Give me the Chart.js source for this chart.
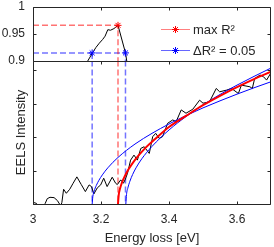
<!DOCTYPE html>
<html>
<head>
<meta charset="utf-8">
<script src="https://cdn.jsdelivr.net/npm/chart.js@4.4.0/dist/chart.umd.min.js"></script>
<style>
  html, body { margin: 0; padding: 0; background: #fff; }
  #wrap { position: relative; width: 274px; height: 247px; }
  #wrap canvas { position: absolute; left: 0; top: 0; }
</style>
</head>
<body>
<div id="wrap">
  <canvas id="spectrumChart" width="274" height="247"></canvas>
  <canvas id="r2Chart" width="274" height="247"></canvas>
</div>
<script>
// Rango de energía común a los dos paneles
const energyMin = 3.0;
const energyMax = 3.7;
const energyTicks = [3.0, 3.2, 3.4, 3.6];

// Panel superior: R² del ajuste según la energía de inicio
const onsetEnergy = [3.160, 3.175, 3.185, 3.195, 3.205, 3.212, 3.220, 3.228, 3.238, 3.250, 3.272, 3.277];
const r2Values    = [0.899, 0.915, 0.925, 0.933, 0.940, 0.946, 0.958, 0.957, 0.960, 0.966, 0.915, 0.895];
const r2Min = 0.9;
const r2Max = 1;
const r2Ticks = [0.9, 0.95, 1];

// Puntos marcados (máximo y banda ΔR²)
const maxOnset = 3.25;
const maxR2 = 0.966;
const bandOnsets = [3.174, 3.272];
const bandR2 = 0.915;

// Panel inferior: espectro EELS
const spectrumEnergy = [
  3.000, 3.010, 3.018, 3.030, 3.036, 3.042, 3.050, 3.062, 3.072, 3.078, 3.082, 3.085,
  3.090, 3.098, 3.108, 3.118, 3.129, 3.142, 3.154, 3.165, 3.172, 3.179, 3.189, 3.199,
  3.208, 3.218, 3.233, 3.243, 3.248, 3.258, 3.266, 3.272, 3.278, 3.287, 3.297, 3.307,
  3.317, 3.327, 3.342, 3.352, 3.361, 3.371, 3.381, 3.396, 3.411, 3.421, 3.436, 3.450,
  3.470, 3.490, 3.500, 3.519, 3.539, 3.549, 3.569, 3.584, 3.604, 3.613, 3.638, 3.645,
  3.652, 3.668, 3.678, 3.687, 3.700
];
const spectrumIntensity = [
  0.05, 0.02, -0.08, -0.08, 0.02, 0.16, 0.20, 0.19, 0.10, 0.00, -0.05, 0.05,
  0.44, 0.32, 0.44, 0.62, 0.81, 0.58, 0.37, 0.57, 0.52, 0.30, 0.48, 0.57,
  0.77, 0.52, 0.80, 0.62, 0.58, 0.72, 0.62, 0.75, 0.92, 1.31, 1.46, 1.31,
  1.66, 1.71, 1.51, 2.01, 2.11, 1.96, 2.01, 2.41, 2.51, 2.46, 2.81, 2.71,
  2.83, 3.10, 3.01, 3.05, 3.45, 3.35, 3.40, 3.45, 3.30, 3.55, 3.50, 3.45,
  3.75, 3.85, 3.80, 3.70, 3.92
];

// Ajuste con R² máximo (rojo)
const fitMaxEnergy = [3.250, 3.252, 3.256, 3.262, 3.270, 3.280, 3.300, 3.330, 3.360, 3.400, 3.450, 3.500, 3.550, 3.600, 3.650, 3.700];
const fitMaxIntensity = [0, 0.26, 0.46, 0.65, 0.83, 1.02, 1.32, 1.67, 1.95, 2.30, 2.63, 2.95, 3.23, 3.49, 3.73, 3.95];

// Ajustes en los extremos de la banda ΔR² (azul)
const fitLowEnergy = [3.174, 3.176, 3.180, 3.186, 3.194, 3.204, 3.220, 3.250, 3.300, 3.350, 3.400, 3.450, 3.500, 3.550, 3.600, 3.650, 3.700];
const fitLowIntensity = [0, 0.22, 0.39, 0.55, 0.71, 0.87, 1.08, 1.39, 1.79, 2.11, 2.39, 2.64, 2.87, 3.08, 3.28, 3.47, 3.65];
const fitHighEnergy = [3.273, 3.275, 3.279, 3.285, 3.293, 3.303, 3.320, 3.350, 3.400, 3.450, 3.500, 3.550, 3.600, 3.650, 3.700];
const fitHighIntensity = [0, 0.28, 0.48, 0.68, 0.88, 1.08, 1.35, 1.72, 2.21, 2.61, 2.96, 3.27, 3.55, 3.81, 4.06];

const intensityMin = 0;
const intensityMax = 4.27;
const intensityTicks = [0, 1, 2, 3, 4];

const legendLabels = ['max R\u00B2', '\u0394R\u00B2 = 0.05'];

// Colores y fuentes
const axisColor = '#262626';
const red = '#ff0000';
const blue = '#0000ff';
const redDash = 'rgba(255,0,0,0.55)';
const blueDash = 'rgba(0,0,255,0.55)';
const fontFamily = "'Liberation Sans', Arial, sans-serif";

function toPoints(xs, ys) {
  return xs.map((x, i) => ({ x: x, y: ys[i] }));
}

function fixedTicks(values) {
  return scale => { scale.ticks = values.map(v => ({ value: v })); };
}

// Ancho fijo del eje Y, sin el relleno extra que Chart.js añade para las etiquetas
function fixedWidth(scale) {
  scale.width = 33;
  scale.paddingTop = 0;
  scale.paddingBottom = 0;
}

// Caja de ejes con marcas hacia dentro (estilo MATLAB)
const axisBox = {
  id: 'axisBox',
  afterDatasetsDraw(chart, args, opts) {
    const { ctx, chartArea: a, scales } = chart;
    const L = Math.round(a.left) + 0.5, R = Math.round(a.right) - 0.5;
    const T = Math.round(a.top) + 0.5, B = Math.round(a.bottom) + 0.5;
    const len = 3;
    ctx.save();
    ctx.strokeStyle = axisColor;
    ctx.lineWidth = 1;
    ctx.beginPath();
    const sides = opts.sides || '';
    if (sides.includes('l')) { ctx.moveTo(L, T); ctx.lineTo(L, B); }
    if (sides.includes('r')) { ctx.moveTo(R, T); ctx.lineTo(R, B); }
    if (sides.includes('t')) { ctx.moveTo(L, T); ctx.lineTo(R, T); }
    if (sides.includes('b')) { ctx.moveTo(L, B); ctx.lineTo(R, B); }
    (opts.xTicks || []).forEach(v => {
      const px = Math.round(scales.x.getPixelForValue(v)) + 0.5;
      if (sides.includes('t')) { ctx.moveTo(px, T); ctx.lineTo(px, T + len); }
      if (sides.includes('b')) { ctx.moveTo(px, B); ctx.lineTo(px, B - len); }
    });
    (opts.yTicks || []).forEach(v => {
      const py = Math.round(scales.y.getPixelForValue(v)) + 0.5;
      if (sides.includes('l')) { ctx.moveTo(L, py); ctx.lineTo(L + len, py); }
      if (sides.includes('r')) { ctx.moveTo(R, py); ctx.lineTo(R - len, py); }
    });
    ctx.stroke();
    ctx.restore();
  }
};

// Leyenda dibujada dentro del panel superior
const r2Legend = {
  id: 'r2Legend',
  afterDraw(chart) {
    const ctx = chart.ctx;
    const colors = [red, blue];
    const lineColors = ['rgba(255,0,0,0.5)', 'rgba(0,0,255,0.6)'];
    const rows = [29, 50];
    ctx.save();
    ctx.font = '13px ' + fontFamily;
    ctx.textBaseline = 'middle';
    ctx.fillStyle = axisColor;
    legendLabels.forEach((label, i) => {
      const y = rows[i] + 0.5;
      ctx.strokeStyle = lineColors[i];
      ctx.lineWidth = 1;
      ctx.beginPath();
      ctx.moveTo(161, y);
      ctx.lineTo(190, y);
      ctx.stroke();
      ctx.strokeStyle = colors[i];
      Chart.helpers.drawPoint(ctx, { pointStyle: 'star', radius: 3.5, borderWidth: 1 }, 175.5, y);
      ctx.fillText(label, 193, rows[i] + 1);
    });
    ctx.restore();
  }
};

function dashed(data, color) {
  return {
    data: data, showLine: true, borderColor: color, borderWidth: 1.5,
    borderDash: [6, 3], pointRadius: 0, fill: false
  };
}

function initR2Chart() {
  const ctx = document.getElementById('r2Chart').getContext('2d');
  new Chart(ctx, {
    type: 'scatter',
    data: {
      datasets: [
        { data: [{ x: maxOnset, y: maxR2 }], pointStyle: 'star', pointRadius: 3.5,
          borderColor: red, backgroundColor: red, borderWidth: 1 },
        { data: bandOnsets.map(x => ({ x: x, y: bandR2 })), pointStyle: 'star', pointRadius: 3.5,
          borderColor: blue, backgroundColor: blue, borderWidth: 1 },
        { data: toPoints(onsetEnergy, r2Values), showLine: true, borderColor: '#000',
          borderWidth: 1, pointRadius: 0, fill: false },
        dashed([{ x: energyMin, y: maxR2 }, { x: maxOnset, y: maxR2 }, { x: maxOnset, y: r2Min }], redDash),
        dashed([{ x: energyMin, y: bandR2 }, { x: bandOnsets[1], y: bandR2 }, { x: bandOnsets[1], y: r2Min }], blueDash),
        dashed([{ x: bandOnsets[0], y: bandR2 }, { x: bandOnsets[0], y: r2Min }], blueDash)
      ]
    },
    options: {
      responsive: false,
      animation: false,
      layout: { autoPadding: false, padding: { left: 0, right: 3, top: 7, bottom: 186 } },
      plugins: {
        legend: { display: false },
        tooltip: { enabled: false },
        axisBox: { sides: 'ltr', xTicks: energyTicks, yTicks: r2Ticks }
      },
      scales: {
        x: { min: energyMin, max: energyMax, display: false },
        y: {
          min: r2Min, max: r2Max,
          afterBuildTicks: fixedTicks(r2Ticks),
          afterFit: fixedWidth,
          grid: { display: false, drawTicks: false },
          border: { display: false },
          ticks: {
            padding: 8, color: axisColor, autoSkip: false,
            font: { family: fontFamily, size: 12, lineHeight: 1 },
            callback: v => String(v)
          }
        }
      }
    },
    plugins: [axisBox, r2Legend]
  });
}

function initSpectrumChart() {
  const ctx = document.getElementById('spectrumChart').getContext('2d');
  const vline = (e, color) => dashed([{ x: e, y: intensityMin - 1 }, { x: e, y: intensityMax + 1 }], color);
  new Chart(ctx, {
    type: 'scatter',
    data: {
      datasets: [
        { data: toPoints(fitMaxEnergy, fitMaxIntensity), showLine: true, borderColor: red,
          borderWidth: 2, pointRadius: 0, fill: false, cubicInterpolationMode: 'monotone' },
        { data: toPoints(fitLowEnergy, fitLowIntensity), showLine: true, borderColor: blue,
          borderWidth: 1, pointRadius: 0, fill: false, cubicInterpolationMode: 'monotone' },
        { data: toPoints(fitHighEnergy, fitHighIntensity), showLine: true, borderColor: blue,
          borderWidth: 1, pointRadius: 0, fill: false, cubicInterpolationMode: 'monotone' },
        { data: toPoints(spectrumEnergy, spectrumIntensity), showLine: true, borderColor: '#000',
          borderWidth: 1, pointRadius: 0, fill: false },
        vline(maxOnset, redDash),
        vline(bandOnsets[0], blueDash),
        vline(bandOnsets[1], blueDash)
      ]
    },
    options: {
      responsive: false,
      animation: false,
      layout: { autoPadding: false, padding: { left: 0, right: 3, top: 61, bottom: 0 } },
      plugins: {
        legend: { display: false },
        tooltip: { enabled: false },
        axisBox: { sides: 'lrtb', xTicks: energyTicks, yTicks: intensityTicks }
      },
      scales: {
        x: {
          min: energyMin, max: energyMax,
          afterBuildTicks: fixedTicks(energyTicks),
          afterFit: s => { s.height = 43; },
          grid: { display: false, drawTicks: false },
          border: { display: false },
          ticks: {
            padding: 10, color: axisColor, maxRotation: 0, autoSkip: false,
            font: { family: fontFamily, size: 12, lineHeight: 1 },
            callback: v => String(v)
          },
          title: {
            display: true, text: 'Energy loss [eV]', color: axisColor,
            font: { family: fontFamily, size: 13 }, padding: { top: 0, bottom: 1 }
          }
        },
        y: {
          min: intensityMin, max: intensityMax,
          afterBuildTicks: fixedTicks(intensityTicks),
          afterFit: fixedWidth,
          grid: { display: false, drawTicks: false },
          border: { display: false },
          ticks: { display: false },
          title: {
            display: true, text: 'EELS Intensity', color: axisColor,
            font: { family: fontFamily, size: 13 }, padding: { top: 14, bottom: 0 }
          }
        }
      }
    },
    plugins: [axisBox]
  });
}

document.addEventListener('DOMContentLoaded', () => {
  initSpectrumChart();
  initR2Chart();
});
</script>
</body>
</html>
